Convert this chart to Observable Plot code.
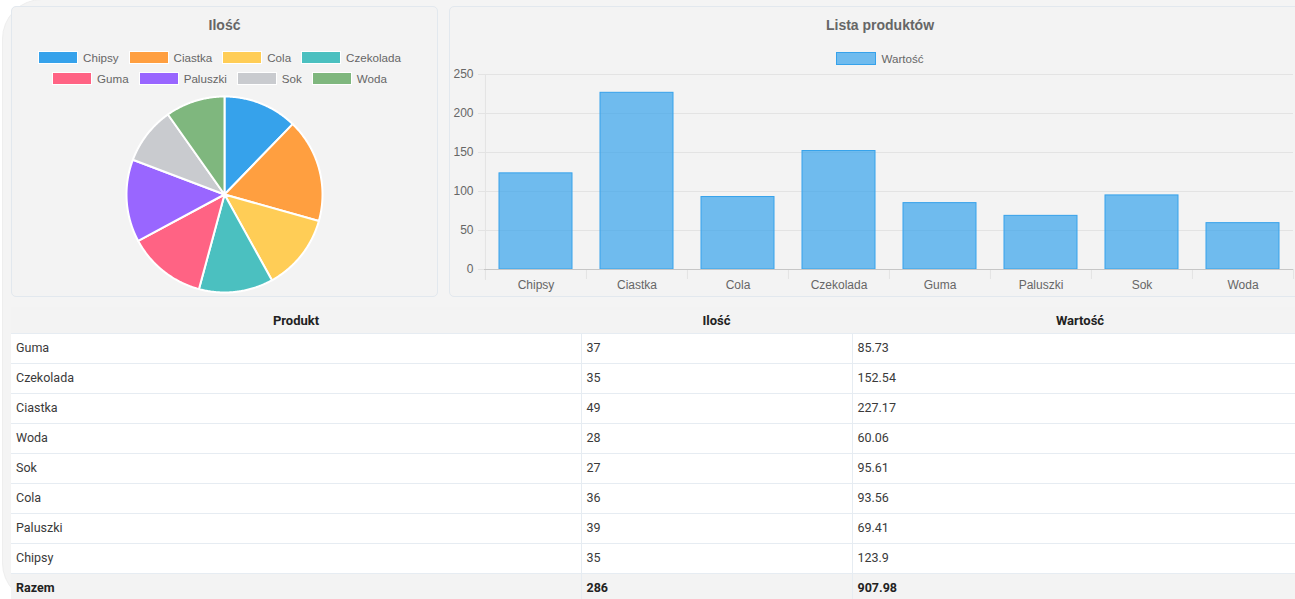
<!DOCTYPE html>
<html>
<head>
<meta charset="utf-8">
<script src="https://cdn.jsdelivr.net/npm/d3@7"></script>
<script src="https://cdn.jsdelivr.net/npm/@observablehq/plot@0.6"></script>
<style>
  html, body { margin: 0; padding: 0; background: #ffffff; width: 1295px; height: 599px; overflow: hidden; }
  body { position: relative; font-family: "Liberation Sans", Arial, sans-serif; }
  #outer { position: absolute; left: 2px; top: -1px; width: 1330px; height: 602px; background: #f4f4f4; border: 1px solid #eeeeee; border-radius: 40px; }
  .panel { position: absolute; background: #f3f3f3; border: 1px solid #e2e8ee; border-radius: 5px; box-sizing: border-box; }
  .title { position: absolute; left: 0; right: 0; text-align: center; font-weight: bold; font-size: 14px; color: #666; }
  .legend { position: absolute; left: 0; right: 0; display: flex; flex-direction: column; align-items: center; gap: 9px; font-size: 11.6px; color: #666; }
  .legrow { display: flex; gap: 10px; align-items: center; height: 12px; }
  .item { display: flex; align-items: center; gap: 5px; }
  .box { width: 38px; height: 11px; border: 1px solid #fff; }
  .chart { position: absolute; }
  .chart svg { max-width: none !important; }
  table { position: absolute; left: 11px; top: 307px; width: 1297px; border-collapse: collapse; font-family: Roboto, "Liberation Sans", sans-serif; font-size: 12.5px; color: #3a3a3a; background: #fff; }
  th { height: 26px; background: #f3f3f3; font-weight: bold; font-size: 13px; color: #222; text-align: center; padding: 0; }
  td { height: 26px; padding: 0 0 3px 5px; border-top: 1px solid #e6ecf2; border-left: 1px solid #e6ecf2; box-sizing: content-box; }
  td:first-child { border-left: none; }
  tr.total td { background: #f3f3f3; font-weight: bold; color: #222; }
</style>
</head>
<body>
<div id="outer"></div>
<div class="panel" style="left:11px; top:6px; width:427px; height:291px;">
  <div class="title" style="top:10px;">Ilość</div>
  <div class="legend" id="pieLegend" style="top:44px; left:-10px;"></div>
</div>
<div class="panel" style="left:449px; top:6px; width:862px; height:291px;">
  <div class="title" style="top:10px; left:0;">Lista produktów</div>
  <div class="legend" id="barLegend" style="top:45px;"></div>
</div>
<div id="pie" class="chart" style="left:0; top:0; width:448px; height:300px;"></div>
<div id="bar" class="chart" style="left:449px; top:6px; width:862px; height:290px;"></div>
<table id="tbl"></table>

<script>
// ---- data ----
const products = ["Chipsy", "Ciastka", "Cola", "Czekolada", "Guma", "Paluszki", "Sok", "Woda"];
const quantities = [35, 49, 36, 35, 37, 39, 27, 28];
const values = [123.9, 227.17, 93.56, 152.54, 85.73, 69.41, 95.61, 60.06];
const pieColors = ["#36a2eb", "#ff9f40", "#ffcd56", "#4bc0c0", "#ff6384", "#9966ff", "#c9cbcf", "#7fb77e"];
const tableOrder = ["Guma", "Czekolada", "Ciastka", "Woda", "Sok", "Cola", "Paluszki", "Chipsy"];
const yTicks = [0, 50, 100, 150, 200, 250];
const headers = ["Produkt", "Ilość", "Wartość"];
const totalLabel = "Razem";
const barLabel = "Wartość";

const rows = products.map((p, i) => ({name: p, qty: quantities[i], value: values[i]}));

// ---- legends ----
const pieLegend = document.getElementById("pieLegend");
[[0, 4], [4, 8]].forEach(([a, b]) => {
  const r = document.createElement("div");
  r.className = "legrow";
  for (let i = a; i < b; i++) {
    r.innerHTML += `<div class="item"><div class="box" style="background:${pieColors[i]}"></div><span>${products[i]}</span></div>`;
  }
  pieLegend.appendChild(r);
});
document.getElementById("barLegend").innerHTML =
  `<div class="legrow"><div class="item"><div class="box" style="background:rgba(54,162,235,0.7);border-color:rgb(54,162,235)"></div><span>${barLabel}</span></div></div>`;

// ---- pie (polygons from d3.pie angles) ----
const arcs = d3.pie().sort(null).value(d => d.qty)(rows);
const piePts = [];
arcs.forEach(a => {
  const name = a.data.name;
  piePts.push({name, x: 0, y: 0});
  const n = Math.max(2, Math.ceil((a.endAngle - a.startAngle) / 0.01));
  for (let k = 0; k <= n; k++) {
    const t = a.startAngle + (a.endAngle - a.startAngle) * k / n;
    piePts.push({name, x: Math.sin(t), y: Math.cos(t)});
  }
  piePts.push({name, x: 0, y: 0});
});
const cx = 224, cy = 194, R = 98;
const pie = Plot.plot({
  width: 448, height: 300,
  margin: 0,
  style: {background: "transparent", maxWidth: "none"},
  x: {domain: [-1, 1], range: [cx - R, cx + R], axis: null},
  y: {domain: [-1, 1], range: [cy + R, cy - R], axis: null},
  color: {domain: products, range: pieColors},
  marks: [
    Plot.line(piePts, {x: "x", y: "y", z: "name", fill: "name", stroke: "white", strokeWidth: 2, curve: "linear", strokeLinejoin: "round"})
  ]
});
document.getElementById("pie").appendChild(pie);

// ---- bar chart ----
const W = 862, H = 290, mL = 35, mR = 18, mT = 68, mB = 27;
const step = (W - mL - mR) / products.length;
const bar = Plot.plot({
  width: W, height: H,
  marginLeft: mL, marginRight: mR, marginTop: mT, marginBottom: mB,
  style: {background: "transparent", maxWidth: "none", fontFamily: "Liberation Sans, Arial, sans-serif", fontSize: "12px"},
  x: {domain: products, paddingInner: 0.28, paddingOuter: 0.14, label: null},
  y: {domain: [0, 250], label: null},
  marks: [
    Plot.gridY(yTicks, {stroke: "#e3e3e3", strokeOpacity: 1, insetLeft: -6}),
    Plot.ruleX([products[0]], {dx: -step / 2, stroke: "#e3e3e3", insetBottom: -11}),
    Plot.axisY(yTicks, {tickSize: 0, tickPadding: 11, fill: "#666", label: null}),
    Plot.axisX({tickSize: 10, tickFormat: () => "", dx: -step / 2, stroke: "#e3e3e3", label: null}),
    Plot.axisX([products[products.length - 1]], {tickSize: 10, tickFormat: () => "", dx: step / 2, stroke: "#e3e3e3", label: null}),
    Plot.axisX({tickSize: 0, tickPadding: 11, fill: "#666", label: null}),
    Plot.barY(rows, {x: "name", y: "value", fill: "rgba(54,162,235,0.7)", stroke: "rgb(54,162,235)", strokeWidth: 1, insetTop: 0.5}),
    Plot.ruleY([0], {stroke: "#c6c6c6"})
  ]
});
document.getElementById("bar").appendChild(bar);

// ---- table ----
const tbl = document.getElementById("tbl");
const colW = [570, 271, 456];
let html = "<colgroup>" + colW.map(w => `<col style="width:${w}px">`).join("") + "</colgroup>";
html += "<tr>" + headers.map(h => `<th>${h}</th>`).join("") + "</tr>";
tableOrder.forEach(p => {
  const r = rows.find(d => d.name === p);
  html += `<tr><td>${r.name}</td><td>${r.qty}</td><td>${r.value}</td></tr>`;
});
const totQ = d3.sum(rows, d => d.qty);
const totV = Math.round(d3.sum(rows, d => d.value) * 100) / 100;
html += `<tr class="total"><td>${totalLabel}</td><td>${totQ}</td><td>${totV}</td></tr>`;
tbl.innerHTML = html;
</script>
</body>
</html>
